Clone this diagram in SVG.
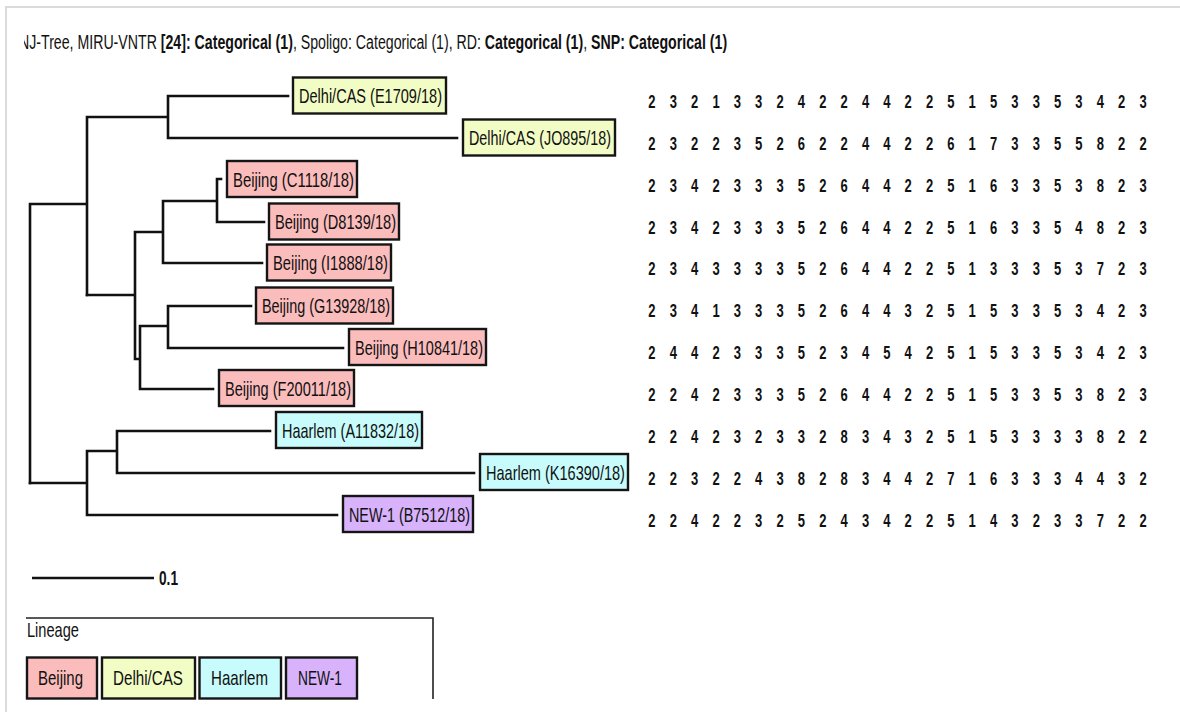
<svg xmlns="http://www.w3.org/2000/svg" width="1180" height="712" viewBox="0 0 1180 712">
<style>
.br{fill:none;stroke:#111;stroke-width:2.6;stroke-linecap:square}
.box{stroke:#151515;stroke-width:2.4}
.bj{fill:#fbbcbc}.dc{fill:#f1fdc5}.hl{fill:#c8fbfb}.nw{fill:#d8b2fb}
.lbl{font-family:"Liberation Sans",Arial,sans-serif;font-size:21px;fill:#111}
.dg{font-family:"Liberation Sans",Arial,sans-serif;font-size:18.6px;font-weight:bold;fill:#111;text-anchor:middle}
.ttl{font-family:"Liberation Sans",Arial,sans-serif;font-size:19.5px;fill:#111}
.b{font-weight:bold}
</style>
<defs>
<clipPath id="tc"><rect x="24" y="0" width="1156" height="80"/></clipPath>
</defs>
<rect x="0" y="0" width="1180" height="712" fill="#fff"/>
<g id="frame" fill="none" stroke="#cfcfcf" stroke-width="1.5">
<path d="M6,712 V7 H1180"/>
</g>
<g id="title" clip-path="url(#tc)">
<text class="ttl" transform="translate(19,49) scale(0.7262,1)" x="0" y="0">NJ-Tree, MIRU-VNTR <tspan class="b">[24]: Categorical (1)</tspan>, Spoligo: Categorical (1), RD: <tspan class="b">Categorical (1)</tspan>, <tspan class="b">SNP: Categorical (1)</tspan></text>
</g>
<g id="connectors">
<path class="br" d="M30,204 V483 M30,204 H87 M87,117 V295 M87,117 H168 M168,96 V138 M168,96 H288 M168,138 H457"/>
<path class="br" d="M87,295 H135 M135,232 V359 M135,232 H163 M163,201 V263 M163,201 H217 M217,179 V222 M217,179 H221 M217,222 H264 M163,263 H262 M135,359 H140 M140,326 V389 M140,326 H168 M168,306 V348 M168,306 H251 M168,348 H343 M140,389 H213"/>
<path class="br" d="M30,483 H87 M87,451 V515 M87,451 H117 M117,431 V473 M117,431 H270 M117,473 H474 M87,515 H337"/>
</g>
<g id="n-E1709"><rect class="box dc" x="293" y="77.5" width="153" height="36"/><text class="lbl" x="299" y="103" textLength="143" lengthAdjust="spacingAndGlyphs">Delhi/CAS (E1709/18)</text></g>
<g id="n-JO895"><rect class="box dc" x="463" y="119.5" width="152" height="36"/><text class="lbl" x="469" y="145" textLength="142" lengthAdjust="spacingAndGlyphs">Delhi/CAS (JO895/18)</text></g>
<g id="n-C1118"><rect class="box bj" x="227" y="161" width="130" height="36"/><text class="lbl" x="233" y="186.5" textLength="121" lengthAdjust="spacingAndGlyphs">Beijing (C1118/18)</text></g>
<g id="n-D8139"><rect class="box bj" x="269" y="203.5" width="130" height="36"/><text class="lbl" x="275" y="229" textLength="121" lengthAdjust="spacingAndGlyphs">Beijing (D8139/18)</text></g>
<g id="n-I1888"><rect class="box bj" x="267" y="244.5" width="124" height="36"/><text class="lbl" x="273" y="270" textLength="115" lengthAdjust="spacingAndGlyphs">Beijing (I1888/18)</text></g>
<g id="n-G13928"><rect class="box bj" x="256" y="287.5" width="137" height="36"/><text class="lbl" x="262" y="313" textLength="128" lengthAdjust="spacingAndGlyphs">Beijing (G13928/18)</text></g>
<g id="n-H10841"><rect class="box bj" x="349" y="329" width="137" height="36"/><text class="lbl" x="355" y="354.5" textLength="128" lengthAdjust="spacingAndGlyphs">Beijing (H10841/18)</text></g>
<g id="n-F20011"><rect class="box bj" x="219" y="370" width="135" height="36"/><text class="lbl" x="225" y="395.5" textLength="126" lengthAdjust="spacingAndGlyphs">Beijing (F20011/18)</text></g>
<g id="n-A11832"><rect class="box hl" x="276" y="412" width="146" height="36"/><text class="lbl" x="282" y="437.5" textLength="137" lengthAdjust="spacingAndGlyphs">Haarlem (A11832/18)</text></g>
<g id="n-K16390"><rect class="box hl" x="480" y="454" width="148" height="36"/><text class="lbl" transform="translate(486,479.5) scale(0.6925,1)" x="0" y="0">Haarlem (K16390/18)</text></g>
<g id="n-B7512"><rect class="box nw" x="343" y="496" width="130" height="36"/><text class="lbl" x="349" y="521.5" textLength="121" lengthAdjust="spacingAndGlyphs">NEW-1 (B7512/18)</text></g>
<g id="grid" transform="scale(0.7 1)">
<text class="dg" y="108" x="931.43 961.93 992.43 1022.93 1053.43 1083.93 1114.43 1144.93 1175.43 1205.93 1236.43 1266.93 1297.43 1327.93 1358.43 1388.93 1419.43 1449.93 1480.43 1510.93 1541.43 1571.93 1602.43 1632.93">232133242244225153353423</text>
<text class="dg" y="150" x="931.43 961.93 992.43 1022.93 1053.43 1083.93 1114.43 1144.93 1175.43 1205.93 1236.43 1266.93 1297.43 1327.93 1358.43 1388.93 1419.43 1449.93 1480.43 1510.93 1541.43 1571.93 1602.43 1632.93">232235262244226173355822</text>
<text class="dg" y="192" x="931.43 961.93 992.43 1022.93 1053.43 1083.93 1114.43 1144.93 1175.43 1205.93 1236.43 1266.93 1297.43 1327.93 1358.43 1388.93 1419.43 1449.93 1480.43 1510.93 1541.43 1571.93 1602.43 1632.93">234233352644225163353823</text>
<text class="dg" y="234" x="931.43 961.93 992.43 1022.93 1053.43 1083.93 1114.43 1144.93 1175.43 1205.93 1236.43 1266.93 1297.43 1327.93 1358.43 1388.93 1419.43 1449.93 1480.43 1510.93 1541.43 1571.93 1602.43 1632.93">234233352644225163354823</text>
<text class="dg" y="275" x="931.43 961.93 992.43 1022.93 1053.43 1083.93 1114.43 1144.93 1175.43 1205.93 1236.43 1266.93 1297.43 1327.93 1358.43 1388.93 1419.43 1449.93 1480.43 1510.93 1541.43 1571.93 1602.43 1632.93">234333352644225133353723</text>
<text class="dg" y="317" x="931.43 961.93 992.43 1022.93 1053.43 1083.93 1114.43 1144.93 1175.43 1205.93 1236.43 1266.93 1297.43 1327.93 1358.43 1388.93 1419.43 1449.93 1480.43 1510.93 1541.43 1571.93 1602.43 1632.93">234133352644325153353423</text>
<text class="dg" y="359" x="931.43 961.93 992.43 1022.93 1053.43 1083.93 1114.43 1144.93 1175.43 1205.93 1236.43 1266.93 1297.43 1327.93 1358.43 1388.93 1419.43 1449.93 1480.43 1510.93 1541.43 1571.93 1602.43 1632.93">244233352345425153353423</text>
<text class="dg" y="401" x="931.43 961.93 992.43 1022.93 1053.43 1083.93 1114.43 1144.93 1175.43 1205.93 1236.43 1266.93 1297.43 1327.93 1358.43 1388.93 1419.43 1449.93 1480.43 1510.93 1541.43 1571.93 1602.43 1632.93">224233352644225153353823</text>
<text class="dg" y="443" x="931.43 961.93 992.43 1022.93 1053.43 1083.93 1114.43 1144.93 1175.43 1205.93 1236.43 1266.93 1297.43 1327.93 1358.43 1388.93 1419.43 1449.93 1480.43 1510.93 1541.43 1571.93 1602.43 1632.93">224232332834325153333822</text>
<text class="dg" y="485" x="931.43 961.93 992.43 1022.93 1053.43 1083.93 1114.43 1144.93 1175.43 1205.93 1236.43 1266.93 1297.43 1327.93 1358.43 1388.93 1419.43 1449.93 1480.43 1510.93 1541.43 1571.93 1602.43 1632.93">223224382834427163334432</text>
<text class="dg" y="527" x="931.43 961.93 992.43 1022.93 1053.43 1083.93 1114.43 1144.93 1175.43 1205.93 1236.43 1266.93 1297.43 1327.93 1358.43 1388.93 1419.43 1449.93 1480.43 1510.93 1541.43 1571.93 1602.43 1632.93">224223252434225143233722</text>
</g>
<g id="scalebar">
<path d="M32,578 H154" stroke="#111" stroke-width="2.4" fill="none"/>
<text class="lbl b" x="159" y="585" font-size="17" textLength="19" lengthAdjust="spacingAndGlyphs">0.1</text>
</g>
<g id="legend">
<path d="M26,618 H433 V699" fill="none" stroke="#222" stroke-width="1.6"/>
<text class="lbl" x="27" y="637" font-size="18" textLength="52" lengthAdjust="spacingAndGlyphs">Lineage</text>
<g id="lg-beijing"><rect class="box bj" x="27" y="657.5" width="70" height="41"/><text class="lbl" x="38" y="685" textLength="45" lengthAdjust="spacingAndGlyphs">Beijing</text></g>
<g id="lg-delhi"><rect class="box dc" x="102" y="657.5" width="93" height="41"/><text class="lbl" x="113" y="685" textLength="70" lengthAdjust="spacingAndGlyphs">Delhi/CAS</text></g>
<g id="lg-haarlem"><rect class="box hl" x="199.5" y="657.5" width="81.5" height="41"/><text class="lbl" x="211" y="685" textLength="57" lengthAdjust="spacingAndGlyphs">Haarlem</text></g>
<g id="lg-new1"><rect class="box nw" x="286" y="657.5" width="71" height="41"/><text class="lbl" x="298" y="685" textLength="44" lengthAdjust="spacingAndGlyphs">NEW-1</text></g>
</g>
</svg>
